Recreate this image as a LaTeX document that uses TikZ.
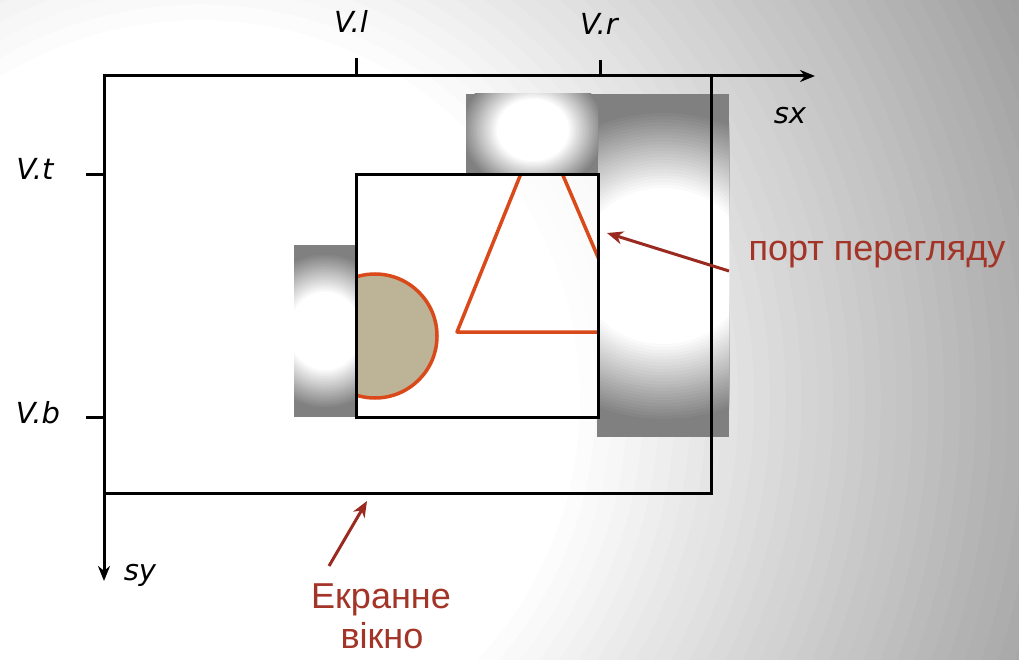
\documentclass[tikz,border=0pt]{standalone}
\usepackage{fontspec}
\setmainfont{Liberation Sans}
\newfontfamily\lblfont{DejaVu Sans Oblique}
\usetikzlibrary{arrows.meta}
\definecolor{boxgrey}{gray}{0.5}
\definecolor{bggrey}{gray}{0.6}
\definecolor{shapeorange}{HTML}{D9491A}
\definecolor{circfill}{HTML}{BDB397}
\definecolor{labelred}{HTML}{A33428}
\definecolor{arrowred}{HTML}{9A2A20}
% glow box: #1,#2 corner, #3,#4 corner, #5,#6 centre, #7,#8 radii (pt)
\newcommand{\myglowbox}[8]{%
  \begin{scope}
    \clip (#1,#2) rectangle (#3,#4);
    \fill[boxgrey] (#1,#2) rectangle (#3,#4);
    \foreach \i in {50,49,...,1}{%
      \pgfmathsetmacro\ff{\i/50}%
      \pgfmathsetmacro\tt{max(0,min(100,(\ff-0.5)*200))}%
      \fill[boxgrey!\tt!white] (#5,#6) ellipse [x radius=\ff*#7pt, y radius=\ff*#8pt];
    }
  \end{scope}}
\tikzset{
  blackline/.style={line width=3pt, black},
  axisarrow/.style={line width=3pt, black, -{Stealth[length=15pt,width=12pt]}},
  shapeline/.style={line width=3.5pt, shapeorange},
  callout/.style={line width=3pt, arrowred, -{Stealth[length=16pt,width=13pt,inset=5pt]}},
  axislabel/.style={font=\lblfont\fontsize{29}{32}\selectfont, anchor=base, inner sep=0pt},
  redlabel/.style={font=\fontsize{36}{40}\selectfont, text=labelred, anchor=base, inner sep=0pt},
}
\begin{document}
\begin{tikzpicture}[x=1pt,y=-1pt]
\useasboundingbox (0,0) rectangle (1019,660);
% background
\begin{scope}
  \clip (0,0) rectangle (1019,660);
  \fill[bggrey] (0,0) rectangle (1019,660);
  \foreach \i in {60,59,...,1}{%
    \pgfmathsetmacro\ff{\i/60}%
    \pgfmathsetmacro\tt{max(0,min(100,(\ff-0.4)*100/0.6))}%
    \fill[bggrey!\tt!white] (200,400) circle [radius=\ff*950pt];
  }
\end{scope}
% glow boxes
\myglowbox{597}{94}{729}{437}{663}{266}{170}{156}
\myglowbox{466}{94}{598}{175}{533}{130}{72}{62}
\myglowbox{294}{245}{356}{417}{325}{331}{72}{78}
% viewport content
\begin{scope}
  \clip (356,175) rectangle (598,417);
  \fill[white, opacity=0.6] (356,175) rectangle (598,417);
  \filldraw[shapeline, fill=circfill] (375,336) circle [radius=62pt];
  \draw[shapeline, line join=round] (457,332) -- (541,124) -- (630,332) -- cycle;
\end{scope}
% viewport
\draw[blackline] (356,175) rectangle (598,417);
% screen window
\draw[blackline] (104,76) rectangle (711,493);
% axes
\coordinate (O) at (104,76);
\coordinate (sxend) at (815,76);
\coordinate (syend) at (104,581);
\draw[axisarrow] (O) -- (sxend);
\draw[axisarrow] (O) -- (syend);
% ticks
\coordinate (lt1) at (356,58); \coordinate (lt2) at (356,76);
\coordinate (rt1) at (600,60); \coordinate (rt2) at (600,76);
\coordinate (tt1) at (86,175); \coordinate (tt2) at (104,175);
\coordinate (bt1) at (86,417); \coordinate (bt2) at (104,417);
\draw[blackline] (lt1) -- (lt2);
\draw[blackline] (rt1) -- (rt2);
\draw[blackline] (tt1) -- (tt2);
\draw[blackline] (bt1) -- (bt2);
% axis labels
\node[axislabel] (Vl) at (351,33) {V.l};
\node[axislabel] (Vr) at (599,35) {V.r};
\node[axislabel] (Vt) at (35,180) {V.t};
\node[axislabel] (Vb) at (38,423) {V.b};
\node[axislabel] (sx) at (790,124) {sx};
\node[axislabel] (sy) at (140,580) {sy};
% red labels
\node[redlabel] (port) at (877,261) {порт перегляду};
\node[redlabel] (ekr1) at (381,608) {Екранне};
\node[redlabel] (ekr2) at (382,648) {вікно};
% callouts
\coordinate (porttail) at (729,271);
\coordinate (porttip) at (607,233);
\coordinate (ekrtail) at (329,566);
\coordinate (ekrtip) at (367,501);
\draw[callout] (porttail) -- (porttip);
\draw[callout] (ekrtail) -- (ekrtip);
\end{tikzpicture}
\end{document}
